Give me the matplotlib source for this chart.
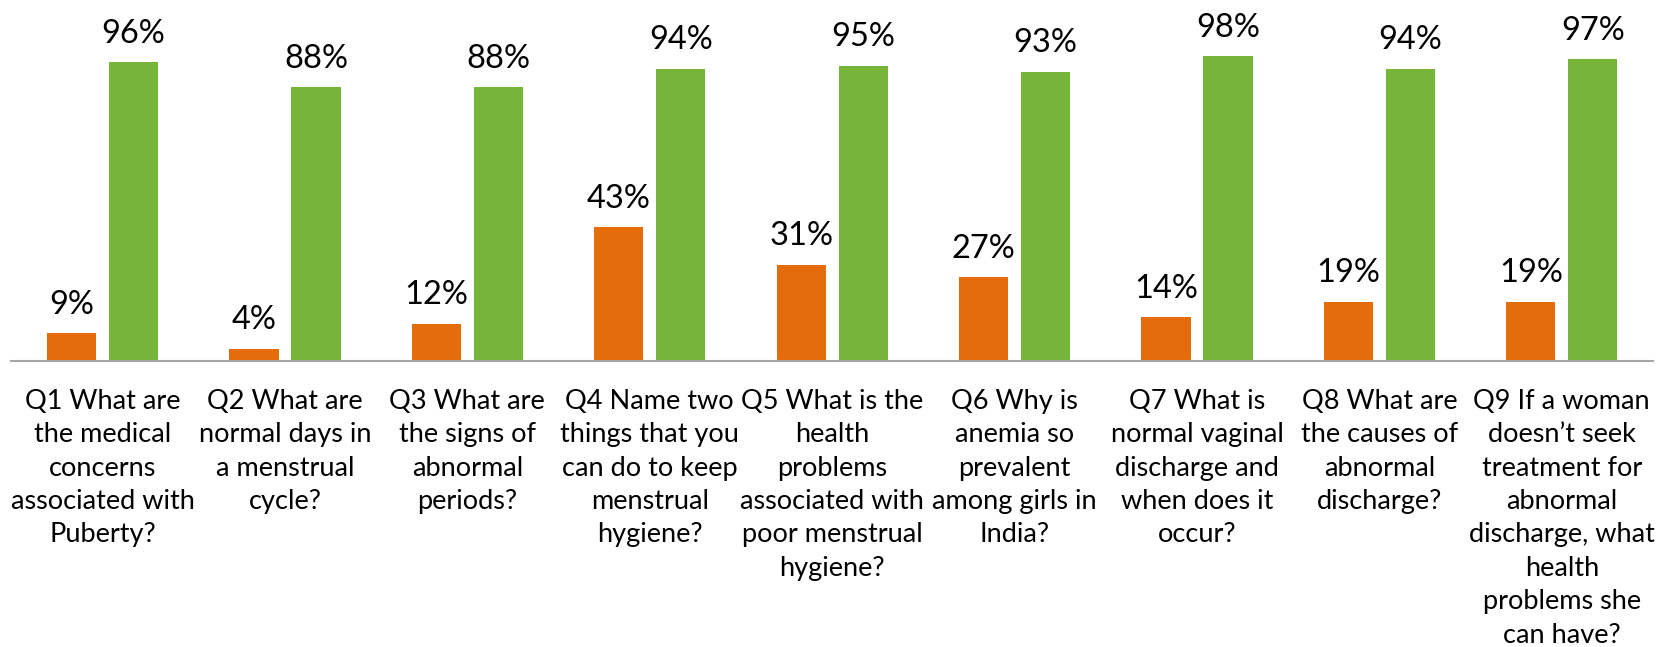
import numpy as np
import matplotlib.pyplot as plt

plt.rcParams['font.family'] = ['Lato', 'DejaVu Sans']

# 数据
questions = [
    "Q1 What are\nthe medical\nconcerns\nassociated with\nPuberty?",
    "Q2 What are\nnormal days in\na menstrual\ncycle?",
    "Q3 What are\nthe signs of\nabnormal\nperiods?",
    "Q4 Name two\nthings that you\ncan do to keep\nmenstrual\nhygiene?",
    "Q5 What is the\nhealth\nproblems\nassociated with\npoor menstrual\nhygiene?",
    "Q6 Why is\nanemia so\nprevalent\namong girls in\nIndia?",
    "Q7 What is\nnormal vaginal\ndischarge and\nwhen does it\noccur?",
    "Q8 What are\nthe causes of\nabnormal\ndischarge?",
    "Q9 If a woman\ndoesn\u2019t seek\ntreatment for\nabnormal\ndischarge, what\nhealth\nproblems she\ncan have?",
]
pre_values = [9, 4, 12, 43, 31, 27, 14, 19, 19]
post_values = [96, 88, 88, 94, 95, 93, 98, 94, 97]

orange = '#E46C0A'
green = '#77B53A'

fig = plt.figure(figsize=(16.67, 6.47), dpi=100)
ax = fig.add_axes([0.0068, 0.442, 0.9848, 0.4807])

x = np.arange(len(questions))
w = 0.27
off = 0.17
b1 = ax.bar(x - off, pre_values, w, color=orange)
b2 = ax.bar(x + off, post_values, w, color=green)

for bars, vals in ((b1, pre_values), (b2, post_values)):
    for rect, v in zip(bars, vals):
        ax.annotate(f'{v}%', (rect.get_x() + rect.get_width() / 2, rect.get_height()),
                    xytext=(0, 14), textcoords='offset points',
                    ha='center', va='baseline', fontsize=23.5, color='black',
                    annotation_clip=False)

ax.set_xlim(-0.5, len(questions) - 0.5)
ax.set_ylim(0, 100)
ax.set_xticks(x)
ax.set_xticklabels(questions, fontsize=19.5, linespacing=1.42)
ax.tick_params(axis='x', length=0, pad=20)
ax.set_yticks([])
for s in ['top', 'right', 'left']:
    ax.spines[s].set_visible(False)
ax.spines['bottom'].set_color('#A6A6A6')
ax.spines['bottom'].set_linewidth(1.5)

plt.savefig('out.png', dpi=100)
